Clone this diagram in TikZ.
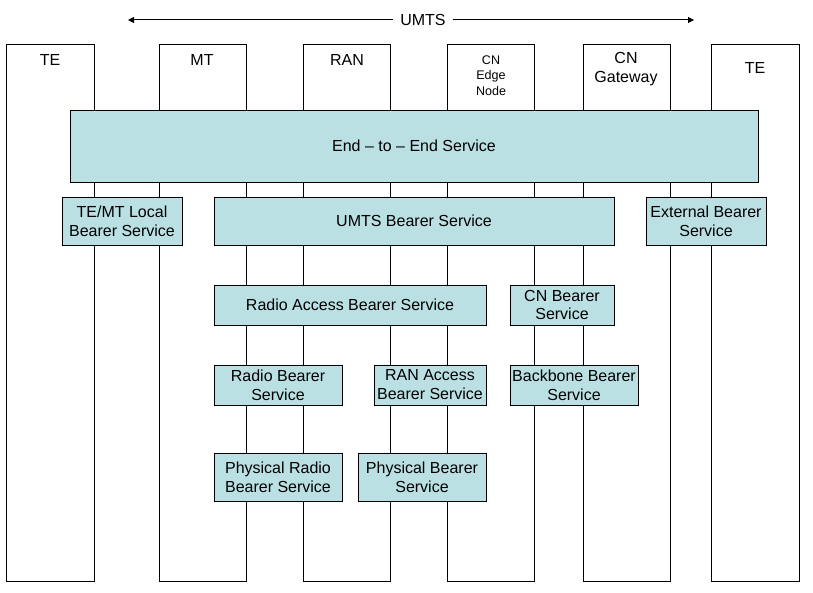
\documentclass[tikz,border=0pt]{standalone}
\usepackage{fontspec}
\setmainfont{Liberation Sans}
\usetikzlibrary{arrows.meta, positioning, fit}
\definecolor{bearer}{RGB}{187,224,227}

\begin{document}
\begin{tikzpicture}[x=0.75pt, y=-0.75pt,
      col/.style={rectangle, draw=black, line width=0.75pt, inner sep=0pt},
      svc/.style={rectangle, draw=black, fill=bearer, line width=0.75pt,
                  inner sep=0pt, align=center, minimum height=30pt,
                  font=\fontsize{12}{14.2}\selectfont},
      lbl/.style={inner sep=0pt, align=center,
                  font=\fontsize{12}{14.2}\selectfont},
      tiny/.style={inner sep=0pt, align=center,
                   font=\fontsize{9.4}{11.6}\selectfont},
      arr/.style={-{Triangle[length=4.5pt, width=4.5pt]}, line width=0.75pt}
    ]
    \useasboundingbox (0,0) rectangle (813,592);

    % network elements
    \node[col, fit={(6,45) (94,581)}]    (te1) {};
    \node[col, fit={(159,45) (246,581)}] (mt)  {};
    \node[col, fit={(303,45) (390,581)}] (ran) {};
    \node[col, fit={(447,45) (534,581)}] (edge) {};
    \node[col, fit={(583,45) (670,581)}] (gw)  {};
    \node[col, fit={(711,45) (799,581)}] (te2) {};

    \node[lbl]  (te1l)  at (50,60)    {TE};
    \node[lbl]  (mtl)   at (202,60)   {MT};
    \node[lbl]  (ranl)  at (347,60)   {RAN};
    \node[tiny] (edgel) at (491,75.5) {CN\\ Edge\\ Node};
    \node[lbl]  (gwl)   at (626,69.5) {CN\\ Gateway};
    \node[lbl]  (te2l)  at (755,68)   {TE};

    % UMTS span
    \coordinate (ul) at (128,20);
    \coordinate (ur) at (694,20);
    \node[lbl, fill=white, inner xsep=5pt] (umts) at (423,20) {UMTS};
    \draw[arr] (umts) -- (ul);
    \draw[arr] (umts) -- (ur);

    % bearer services
    \node[svc, minimum width=516pt, minimum height=54pt] (e2e) at (414,146) {End -- to -- End Service};
    \node[svc, minimum width=90pt,  minimum height=36pt] (loc) at (122,221) {TE/MT Local\\ Bearer Service};
    \node[svc, minimum width=300pt, minimum height=36pt] (ubs) at (414,221) {UMTS Bearer Service};
    \node[svc, minimum width=90pt,  minimum height=36pt] (ext) at (706,221) {External Bearer\\ Service};
    \node[svc, minimum width=204pt] (rab)  at (350,305) {Radio Access Bearer Service};
    \node[svc, minimum width=78pt]  (cnb)  at (562,305) {CN Bearer\\ Service};
    \node[svc, minimum width=96pt]  (rb)   at (278,385) {Radio Bearer\\ Service};
    \node[svc, minimum width=84pt]  (rnab) at (430,385) {RAN Access\\ Bearer Service};
    \node[svc, minimum width=96pt]  (bbb)  at (574,385) {Backbone Bearer\\ Service};
    \node[svc, minimum width=96pt,  minimum height=36pt] (prb) at (278,477) {Physical Radio\\ Bearer Service};
    \node[svc, minimum width=96pt,  minimum height=36pt] (pb)  at (422,477) {Physical Bearer\\ Service};
  \end{tikzpicture}
\end{document}
